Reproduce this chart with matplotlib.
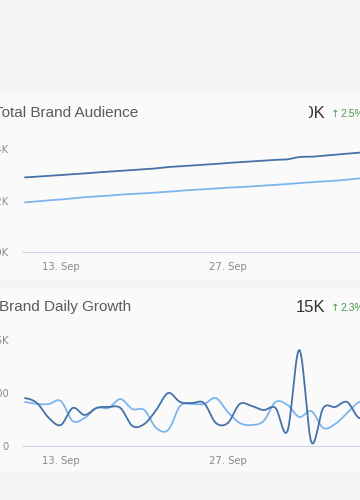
import numpy as np
import pandas as pd
import matplotlib
matplotlib.use('Agg')
import matplotlib.pyplot as plt
import matplotlib.dates as mdates
from matplotlib.patches import Rectangle
from matplotlib.transforms import Bbox

dates = pd.date_range('2017-09-10', periods=30, freq='D')

# Total Brand Audience (K)
audience_a = [12.91, 12.94, 12.97, 13.00, 13.03, 13.06, 13.10, 13.13, 13.16, 13.19,
              13.22, 13.26, 13.31, 13.34, 13.37, 13.40, 13.43, 13.47, 13.50, 13.53,
              13.56, 13.59, 13.61, 13.70, 13.71, 13.75, 13.79, 13.83, 13.87, 13.90]
audience_b = [11.94, 11.98, 12.02, 12.05, 12.10, 12.14, 12.17, 12.20, 12.24, 12.26,
              12.29, 12.32, 12.35, 12.39, 12.42, 12.45, 12.48, 12.51, 12.53, 12.56,
              12.59, 12.62, 12.65, 12.69, 12.72, 12.75, 12.78, 12.82, 12.87, 12.90]

# Brand Daily Growth
growth_a = [724, 649, 423, 317, 574, 468, 574, 589, 574, 302,
            332, 543, 800, 664, 649, 649, 347, 347, 634, 604,
            543, 574, 226, 1449, 60, 574, 589, 664, 423, 500]
growth_b = [664, 634, 634, 679, 377, 423, 574, 574, 709, 558,
            543, 272, 241, 604, 634, 634, 724, 513, 347, 317,
            377, 664, 619, 438, 528, 272, 332, 498, 664, 690]

audience_ticks = [10, 12, 14]
audience_labels = ['10K', '12K', '14K']
growth_ticks = [0, 800, 1600]
growth_labels = ['0', '800', '1.6K']
date_ticks = ['2017-09-13', '2017-09-27']
date_labels = ['13. Sep', '27. Sep']

DARK = '#4572a7'
LIGHT = '#7cb5ec'
W, H = 360, 500


def smooth(x, y, n=16):
    # catmull-rom so the lines look like the spline in the dashboard
    x = np.asarray(x, float)
    y = np.asarray(y, float)
    xs, ys = [], []
    for i in range(len(x) - 1):
        y0 = y[max(i - 1, 0)]
        y1, y2 = y[i], y[i + 1]
        y3 = y[min(i + 2, len(y) - 1)]
        m1 = (y2 - y0) / 2
        m2 = (y3 - y1) / 2
        t = np.linspace(0, 1, n, endpoint=False)
        h00 = 2 * t**3 - 3 * t**2 + 1
        h10 = t**3 - 2 * t**2 + t
        h01 = -2 * t**3 + 3 * t**2
        h11 = t**3 - t**2
        xs.append(x[i] + t * (x[i + 1] - x[i]))
        ys.append(h00 * y1 + h10 * m1 + h01 * y2 + h11 * m2)
    xs.append([x[-1]])
    ys.append([y[-1]])
    return np.concatenate(xs), np.concatenate(ys)


def fbox(x0, y0, x1, y1):
    # pixel box (top-left origin) -> figure rect
    return [x0 / W, 1 - y1 / H, (x1 - x0) / W, (y1 - y0) / H]


fig = plt.figure(figsize=(3.6, 5), dpi=100)
fig.patch.set_facecolor('#f4f4f4')
for top, bot in [(92, 278), (288, 470)]:
    fig.add_artist(Rectangle((0, 1 - bot / H), 1, (bot - top) / H,
                             transform=fig.transFigure, color='#fafafa', zorder=0))

xnum = mdates.date2num(dates)
px_day = 11.93


def make_axes(rect_px, base_px, px_per_unit, base_val, top_px):
    ax = fig.add_axes(fbox(*rect_px))
    ax.set_facecolor('none')
    left_px = rect_px[0]
    right_px = rect_px[2]
    x0 = xnum[0] - (25 - left_px) / px_day
    ax.set_xlim(x0, x0 + (right_px - left_px) / px_day)
    ax.set_ylim(base_val, base_val + (base_px - top_px) / px_per_unit)
    for s in ['top', 'left', 'right']:
        ax.spines[s].set_visible(False)
    ax.spines['bottom'].set_color('#ccd6eb')
    ax.spines['bottom'].set_linewidth(0.8)
    ax.tick_params(axis='both', length=0, labelsize=7.2, colors='#8a8a8a')
    ax.tick_params(axis='y', pad=9.4)
    ax.tick_params(axis='x', pad=7.2)
    ax.set_xticks(mdates.date2num(pd.to_datetime(date_ticks)))
    ax.set_xticklabels(date_labels)
    return ax


# chart 1
ax1 = make_axes((22, 140, 400, 252.3), 252.3, 25.75, 10, 140)
for ser, c in [(audience_b, LIGHT), (audience_a, DARK)]:
    sx, sy = smooth(xnum, ser)
    ax1.plot(sx, sy, color=c, lw=1.3, solid_capstyle='round')
ax1.set_yticks(audience_ticks)
ax1.set_yticklabels(audience_labels)

# chart 2
ax2 = make_axes((22, 335, 400, 446), 446, 53 / 800, 0, 335)
for ser, c in [(growth_b, LIGHT), (growth_a, DARK)]:
    sx, sy = smooth(xnum, ser)
    ax2.plot(sx, sy, color=c, lw=1.3, solid_capstyle='round', clip_on=False)
ax2.set_yticks(growth_ticks)
ax2.set_yticklabels(growth_labels)

# headers
font = 'Liberation Sans'
fig.text(-6 / W, 1 - 113 / H, 'Total Brand Audience', fontsize=11, color='#5a5a5a',
         family=font, va='center', ha='left')
fig.text(-1 / W, 1 - 307 / H, 'Brand Daily Growth', fontsize=11, color='#5a5a5a',
         family=font, va='center', ha='left')

v1 = fig.text(325 / W, 1 - 113 / H, '20K', fontsize=12, color='#333333',
              family=font, va='center', ha='right')
v1.set_clip_box(Bbox.from_extents(309, 0, W, H))
v1.set_clip_on(True)
fig.text(325 / W, 1 - 307 / H, '15K', fontsize=12, color='#333333',
         family=font, va='center', ha='right')

for yy, pct in [(114, '2.5%'), (308, '2.3%')]:
    fig.text(331 / W, 1 - yy / H, '\u2191', fontsize=7.5, color='#4a9a4a',
             family='DejaVu Sans', va='center', ha='left')
    fig.text(340 / W, 1 - yy / H, pct, fontsize=7.5, color='#4a9a4a',
             family=font, va='center', ha='left')

fig.savefig('out.png', dpi=100, facecolor=fig.get_facecolor())
